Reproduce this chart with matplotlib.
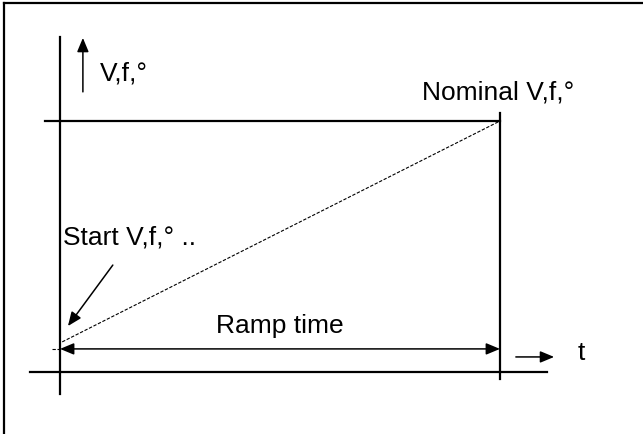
import matplotlib
matplotlib.use("Agg")
import matplotlib.pyplot as plt

plt.rcParams['font.family'] = ['Liberation Sans', 'DejaVu Sans']

# ramp diagram: time runs 0 -> 1 over the ramp, level runs from start to nominal
ramp_t = [0.0, 1.0]          # ramp start, ramp end
ramp_level = [0.12, 1.0]     # start V,f,° and nominal V,f,°
ramp_arrow_level = 0.092     # height of the "Ramp time" dimension arrow
labels = {
    'y': 'V,f,°',
    'nominal': 'Nominal V,f,°',
    'start': 'Start V,f,° ..',
    'ramp': 'Ramp time',
    'x': 't',
}
fs = 19

fig = plt.figure(figsize=(6.43, 4.34), dpi=100)
ax = fig.add_axes([0, 0, 1, 1])
ax.set_xlim(-0.1364, 1.325)
ax.set_ylim(-0.247, 1.482)
ax.axis('off')

# frame (only left and top edges show)
ax.plot([0.006, 0.006], [0, 0.993], color='black', lw=1.6, transform=ax.transAxes)
ax.plot([0.006, 1.0], [0.993, 0.993], color='black', lw=1.6, transform=ax.transAxes)

# axes of the diagram
ax.plot([ramp_t[0], ramp_t[0]], [-0.088, 1.335], color='black', lw=1.6)
ax.plot([-0.068, 1.107], [0, 0], color='black', lw=1.6)

# nominal level and end of ramp
ax.plot([-0.034, ramp_t[1]], [ramp_level[1], ramp_level[1]], color='black', lw=1.6)
ax.plot([ramp_t[1], ramp_t[1]], [-0.028, 1.032], color='black', lw=1.6)

# the ramp itself
ax.plot([ramp_t[0] + 0.005, ramp_t[1]], ramp_level, color='black', lw=0.8,
        linestyle=(0, (3, 1.5)))

# ramp time dimension arrow
head = '-|>,head_length=0.6,head_width=0.25'
ax.annotate('', xy=(ramp_t[0], ramp_arrow_level), xytext=(ramp_t[1], ramp_arrow_level),
            arrowprops=dict(arrowstyle='<|-|>,head_length=0.6,head_width=0.25', color='black',
                            lw=1.1, mutation_scale=14, shrinkA=0, shrinkB=0))
ax.plot([-0.018, ramp_t[0]], [ramp_arrow_level, ramp_arrow_level], color='black', lw=0.8,
        linestyle=(0, (3, 1.5)))
ax.text(0.5, 0.183, labels['ramp'], fontsize=fs, ha='center', va='center')

# y label with up arrow
ax.annotate('', xy=(0.052, 1.331), xytext=(0.052, 1.116),
            arrowprops=dict(arrowstyle=head, color='black', lw=1.1,
                            mutation_scale=14, shrinkA=0, shrinkB=0))
ax.text(0.091, 1.191, labels['y'], fontsize=fs, ha='left', va='center')

# x label with right arrow
ax.annotate('', xy=(1.123, 0.06), xytext=(1.036, 0.06),
            arrowprops=dict(arrowstyle=head, color='black', lw=1.1,
                            mutation_scale=14, shrinkA=0, shrinkB=0))
ax.text(1.177, 0.076, labels['x'], fontsize=fs, ha='left', va='center')

# nominal and start labels
ax.text(0.823, 1.112, labels['nominal'], fontsize=fs, ha='left', va='center')
ax.text(0.007, 0.534, labels['start'], fontsize=fs, ha='left', va='center')
ax.annotate('', xy=(0.018, 0.183), xytext=(0.12, 0.426),
            arrowprops=dict(arrowstyle=head, color='black', lw=1.1,
                            mutation_scale=14, shrinkA=0, shrinkB=0))

fig.savefig('out.png', dpi=100)
